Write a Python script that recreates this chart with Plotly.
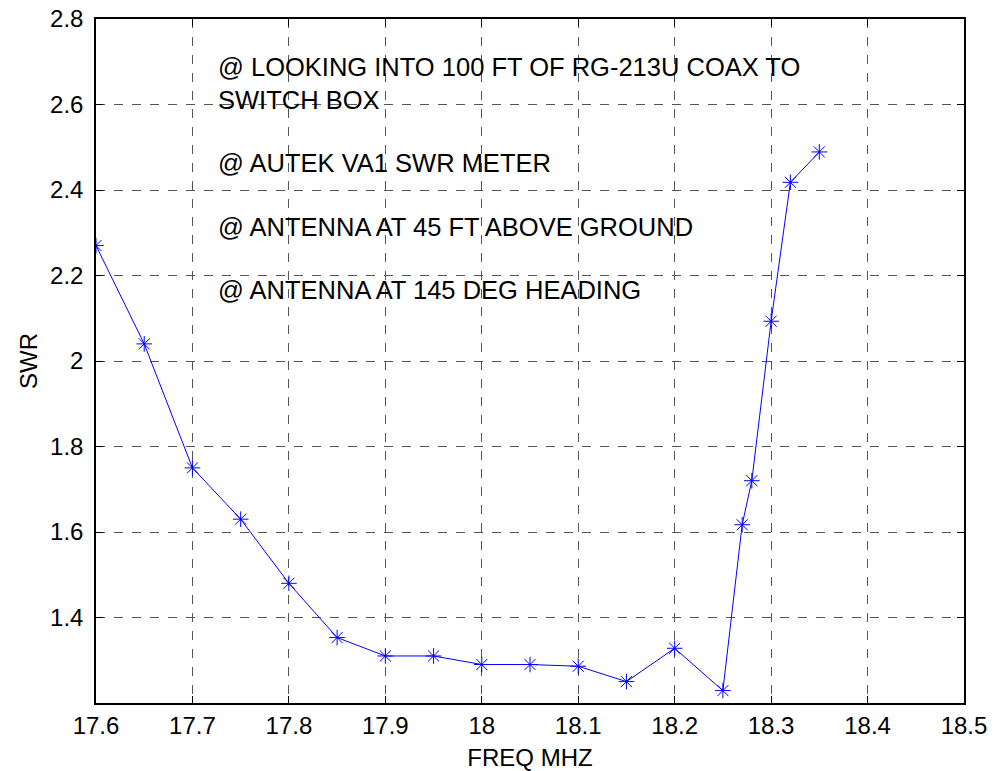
import plotly.graph_objects as go

freq_mhz = [17.60, 17.65, 17.70, 17.75, 17.80, 17.85, 17.90, 17.95, 18.00, 18.05,
            18.10, 18.15, 18.20, 18.25, 18.27, 18.28, 18.30, 18.32, 18.35]
swr = [2.27, 2.04, 1.75, 1.63, 1.48, 1.353, 1.31, 1.31, 1.29, 1.29,
       1.286, 1.25, 1.328, 1.229, 1.617, 1.72, 2.093, 2.418, 2.489]

x_ticks = [17.6, 17.7, 17.8, 17.9, 18.0, 18.1, 18.2, 18.3, 18.4, 18.5]
x_tick_labels = ["17.6", "17.7", "17.8", "17.9", "18", "18.1", "18.2", "18.3", "18.4", "18.5"]
y_ticks = [1.4, 1.6, 1.8, 2.0, 2.2, 2.4, 2.6, 2.8]
y_tick_labels = ["1.4", "1.6", "1.8", "2", "2.2", "2.4", "2.6", "2.8"]

notes = [
    ("@ LOOKING INTO 100 FT OF RG-213U COAX TO", 2.688),
    ("SWITCH BOX", 2.610),
    ("@ AUTEK VA1 SWR METER", 2.463),
    ("@ ANTENNA AT 45 FT ABOVE GROUND", 2.314),
    ("@ ANTENNA AT 145 DEG HEADING", 2.165),
]
note_x = 17.7245

FONT = "Liberation Sans, Arial, sans-serif"

fig = go.Figure()
fig.add_trace(go.Scatter(
    x=freq_mhz, y=swr, mode="lines+markers",
    line=dict(color="#0000ff", width=1),
    marker=dict(symbol="asterisk-open", size=13, color="#0000ff",
                line=dict(color="#0000ff", width=1)),
    showlegend=False,
))

for txt, yv in notes:
    fig.add_annotation(x=note_x, y=yv, xref="x", yref="y", text=txt,
                       showarrow=False, xanchor="left", yanchor="middle",
                       font=dict(family=FONT, size=25.5, color="black"))

axis_common = dict(
    showline=True, linecolor="black", linewidth=1.5, mirror="ticks",
    ticks="inside", ticklen=7, tickcolor="black", tickwidth=1,
    showgrid=True, gridcolor="#555555", gridwidth=1, griddash="dash",
    zeroline=False,
    tickfont=dict(family=FONT, size=24, color="black"),
)

fig.update_xaxes(range=[17.6, 18.5], tickvals=x_ticks, ticktext=x_tick_labels,
                 title=dict(text="FREQ MHZ", font=dict(family=FONT, size=24, color="black"), standoff=16),
                 ticklabelstandoff=0, **axis_common)
fig.update_yaxes(range=[1.2, 2.8], tickvals=y_ticks, ticktext=y_tick_labels,
                 title=dict(text="SWR", font=dict(family=FONT, size=24, color="black"), standoff=6),
                 ticklabelstandoff=6, **axis_common)

fig.update_layout(
    width=995, height=771,
    margin=dict(l=96, r=31, t=19, b=68, autoexpand=False),
    paper_bgcolor="white", plot_bgcolor="white",
    font=dict(family=FONT, size=24, color="black"),
)

fig.write_html("out.html")
